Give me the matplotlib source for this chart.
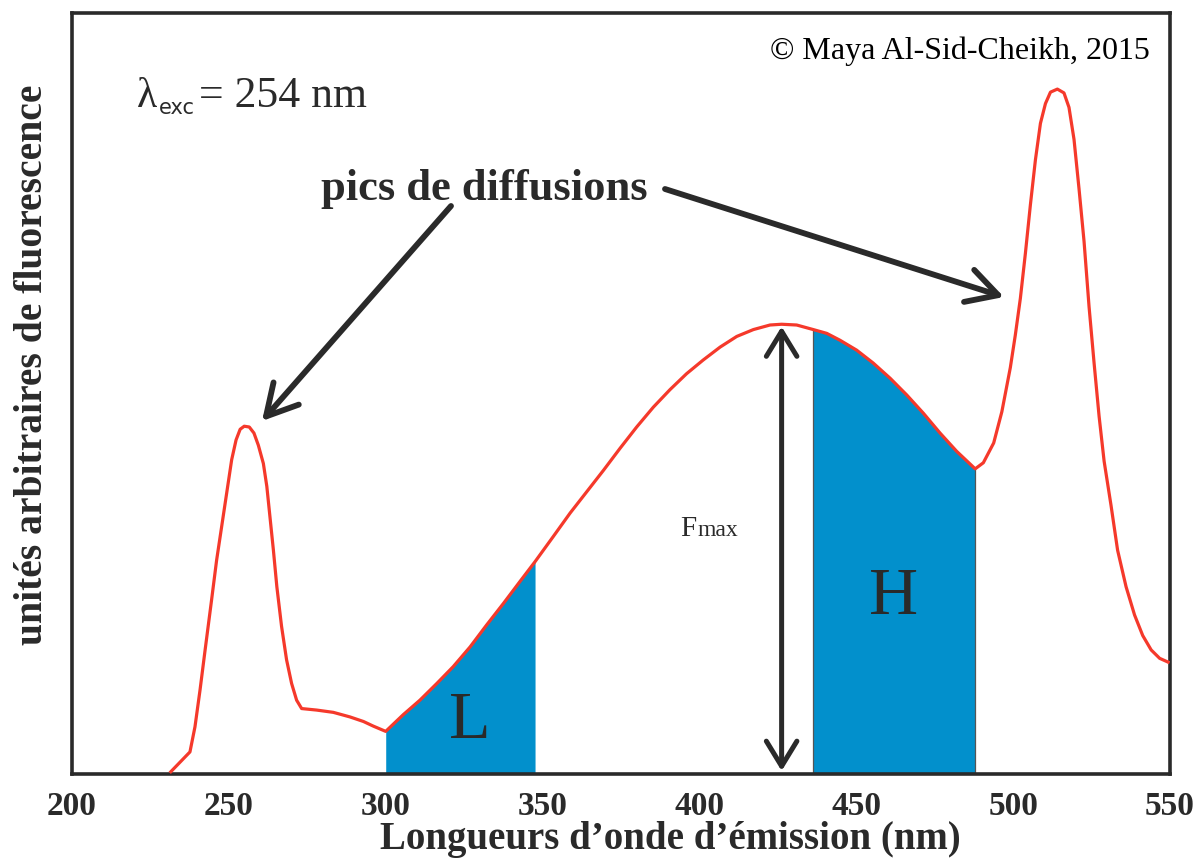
import numpy as np
import matplotlib
matplotlib.use("Agg")
import matplotlib.pyplot as plt

# ---- data ----
wavelength = [231.5, 237.6, 239.2, 240.8, 242.4, 244.5, 246.1, 247.7, 249.3, 250.9,
              252.3, 253.6, 254.9, 256.5, 258.0, 259.4, 261.0, 262.1, 263.1, 264.2,
              265.3, 266.8, 268.4, 270.0, 271.6, 273.2, 278.0, 283.3, 288.6, 292.9,
              296.0, 300.0, 305.6, 310.9, 316.3, 321.5, 326.9, 332.2, 337.5, 342.8,
              347.6, 353.4, 358.8, 364.1, 369.4, 374.7, 380.0, 385.3, 390.6, 395.9,
              401.2, 406.6, 411.9, 417.2, 422.5, 426.2, 431.0, 436.3, 440.6, 444.8,
              450.1, 455.4, 460.8, 466.1, 471.4, 476.7, 482.0, 487.9, 490.5, 493.8,
              496.4, 499.1, 500.7, 502.3, 503.9, 505.5, 507.1, 508.7, 510.3, 511.9,
              514.1, 516.2, 517.8, 519.4, 521.0, 522.6, 524.2, 525.8, 527.4, 529.0,
              531.2, 533.3, 536.0, 538.7, 541.3, 544.0, 546.7, 549.4]
intensity = [0.3, 2.9, 6.2, 11.0, 16.2, 22.9, 28.1, 32.5, 36.9, 41.3,
             43.9, 45.3, 45.7, 45.6, 44.8, 43.2, 40.8, 37.8, 33.8, 29.4,
             24.6, 19.4, 15.0, 11.9, 9.7, 8.6, 8.4, 8.1, 7.5, 6.9,
             6.3, 5.6, 7.8, 9.7, 11.9, 14.1, 16.7, 19.6, 22.4, 25.3,
             27.9, 31.2, 34.3, 37.1, 39.9, 42.8, 45.6, 48.2, 50.5, 52.6,
             54.4, 56.1, 57.5, 58.4, 59.0, 59.1, 59.0, 58.4, 57.9, 57.0,
             55.7, 54.0, 52.0, 49.8, 47.4, 44.8, 42.4, 40.1, 40.9, 43.5,
             47.6, 53.4, 57.7, 62.5, 68.4, 74.8, 80.7, 85.5, 88.1, 89.6,
             90.0, 89.5, 87.6, 83.4, 76.9, 70.0, 61.4, 54.0, 47.0, 41.1,
             35.3, 29.4, 24.6, 20.9, 18.2, 16.3, 15.2, 14.7]
band_L = (300.0, 347.6)
band_H = (436.3, 487.9)
xticks = [200, 250, 300, 350, 400, 450, 500, 550]

RED = "#F5392B"
BLUE = "#0290CC"
DARK = "#2A2A2A"
SERIF = ["Liberation Serif", "DejaVu Serif"]

W, H = 1193, 861
fig = plt.figure(figsize=(W / 100, H / 100), dpi=100)
L0, R0, T0, B0 = 72, 1170, 13, 774
ax = fig.add_axes([L0 / W, (H - B0) / H, (R0 - L0) / W, (B0 - T0) / H])

x = np.array(wavelength)
y = np.array(intensity)

# shaded bands
mL = (x >= band_L[0]) & (x <= band_L[1])
ax.fill_between(x[mL], 0, y[mL], color=BLUE, lw=0, zorder=1)
mH = (x >= band_H[0]) & (x <= band_H[1])
ax.fill_between(x[mH], 0, y[mH], color=BLUE, lw=0, zorder=1)
for xb in band_H:
    yb = y[np.argmin(np.abs(x - xb))]
    ax.plot([xb, xb], [0, yb], color="#555555", lw=0.9, zorder=1.5)

ax.plot(x, y, color=RED, lw=2.3, zorder=3, solid_joinstyle="round")

ax.set_xlim(200, 550)
ax.set_ylim(0, 100)
ax.set_xticks(xticks)
ax.set_xticklabels([str(t) for t in xticks], family=SERIF, fontweight="bold",
                   fontsize=24, color=DARK)
ax.tick_params(axis="x", length=0, pad=12)
ax.set_yticks([])
for s in ax.spines.values():
    s.set_linewidth(2.6)
    s.set_color(DARK)

ax.set_xlabel("Longueurs d’onde d’émission (nm)", family=SERIF, fontweight="bold",
              fontsize=28, color=DARK)
ax.xaxis.set_label_coords((670 - L0) / (R0 - L0), -0.062)
fig.text(33 / W, 1 - 365 / H, "unités arbitraires de fluorescence", family=SERIF,
         fontweight="bold", fontsize=28.5, color=DARK, rotation=90,
         ha="center", va="center")

def ax_xy(px, py):
    return ((px - L0) / (R0 - L0), (B0 - py) / (B0 - T0))

# Fmax double arrow
ipk = int(np.argmax(np.where((x > 380) & (x < 480), y, -1)))
ax.annotate("", xy=(x[ipk], y[ipk] - 0.3), xytext=(x[ipk], 0.4),
            arrowprops=dict(arrowstyle="<->,head_length=0.9,head_width=0.55",
                            lw=3.6, color=DARK, mutation_scale=20,
                            shrinkA=0, shrinkB=0), zorder=4)

# labels inside
ax.text(*ax_xy(680, 536), "F", transform=ax.transAxes, family=SERIF, fontsize=21,
        color=DARK, ha="left", va="baseline")
ax.text(*ax_xy(697, 536), "max", transform=ax.transAxes, family=SERIF, fontsize=17,
        color=DARK, ha="left", va="baseline")
ax.text(*ax_xy(470, 722), "L", transform=ax.transAxes, family=SERIF, fontsize=49,
        color=DARK, ha="center", va="center", zorder=5)
ax.text(*ax_xy(894, 597), "H", transform=ax.transAxes, family=SERIF, fontsize=49,
        color=DARK, ha="center", va="center", zorder=5)

# lambda exc
ax.text(*ax_xy(137, 107), "λ", transform=ax.transAxes, family=SERIF, fontsize=30,
        color=DARK, ha="left", va="baseline")
ax.text(*ax_xy(159, 114), "exc", transform=ax.transAxes, family="DejaVu Sans",
        fontsize=15, color=DARK, ha="left", va="baseline")
ax.text(*ax_xy(199, 107), "= 254 nm", transform=ax.transAxes, family=SERIF,
        fontsize=31.5, color=DARK, ha="left", va="baseline")

# copyright
ax.text(*ax_xy(1150, 59), "© Maya Al-Sid-Cheikh, 2015", transform=ax.transAxes,
        family=SERIF, fontsize=23, color="black", ha="right", va="baseline")

# pics de diffusions
ax.text(*ax_xy(484, 200), "pics de diffusions", transform=ax.transAxes,
        family=SERIF, fontweight="bold", fontsize=32, color=DARK,
        ha="center", va="baseline")
arrow_kw = dict(arrowstyle="->,head_length=1.0,head_width=0.55", lw=4.2,
                color=DARK, mutation_scale=22, shrinkA=0, shrinkB=0)
ax.annotate("", xy=ax_xy(262, 421), xytext=ax_xy(451, 206),
            xycoords="axes fraction", textcoords="axes fraction",
            arrowprops=arrow_kw)
ax.annotate("", xy=ax_xy(1004, 297), xytext=ax_xy(665, 189),
            xycoords="axes fraction", textcoords="axes fraction",
            arrowprops=arrow_kw)

fig.savefig("out.png", dpi=100)
